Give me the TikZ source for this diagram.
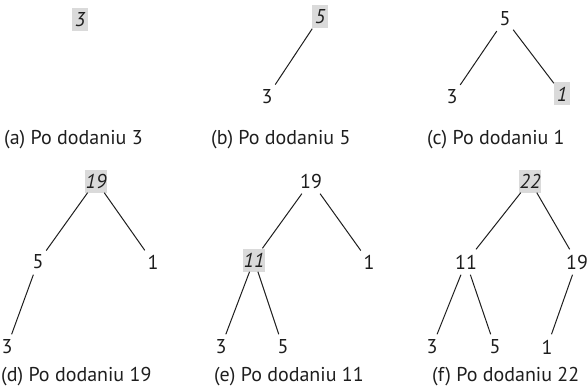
\documentclass[tikz,border=0pt]{standalone}
\usepackage{fontspec}
\setmainfont{PT Sans}
\definecolor{hl}{HTML}{DADADA}
\definecolor{ink}{HTML}{1E1E1E}
\tikzset{
  every node/.style={font=\fontsize{20}{22}\selectfont, text=ink},
  key/.style={rectangle, minimum width=16, minimum height=25, inner sep=1pt},
  hot/.style={key, fill=hl, font=\fontsize{20}{22}\selectfont\itshape, minimum height=23},
  capt/.style={inner sep=0pt, anchor=west},
  edge/.style={draw=ink, line width=1pt}
}
\begin{document}
\begin{tikzpicture}[x=1pt,y=-1pt]
\useasboundingbox (0,0) rectangle (588,390);
% (a)
\node[hot] (a1) at (80,20) {3};
\node[capt] (ac) at (4,140) {(a) Po dodaniu 3};
% (b)
\node[hot] (b1) at (320,17) {5};
\node[key] (b2) at (267,97) {3};
\draw[edge] (b1) -- (b2);
\node[capt] (bc) at (211,140) {(b) Po dodaniu 5};
% (c)
\node[key] (c1) at (505,19) {5};
\node[key] (c2) at (452,97) {3};
\node[hot] (c3) at (562,94) {1};
\draw[edge] (c1) -- (c2);
\draw[edge] (c1) -- (c3);
\node[capt] (cc) at (427,140) {(c) Po dodaniu 1};
% (d)
\node[hot] (d1) at (96,181) {19};
\node[key] (d2) at (38,262) {5};
\node[key] (d3) at (153,262) {1};
\node[key] (d4) at (7,347) {3};
\draw[edge] (d1) -- (d2);
\draw[edge] (d1) -- (d3);
\draw[edge] (d2) -- (d4);
\node[capt] (dc) at (1,377) {(d) Po dodaniu 19};
% (e)
\node[key] (e1) at (311,181) {19};
\node[hot] (e2) at (254,260) {11};
\node[key] (e3) at (369,262) {1};
\node[key] (e4) at (221,347) {3};
\node[key] (e5) at (283,347) {5};
\draw[edge] (e1) -- (e2);
\draw[edge] (e1) -- (e3);
\draw[edge] (e2) -- (e4);
\draw[edge] (e2) -- (e5);
\node[capt] (ec) at (214,377) {(e) Po dodaniu 11};
% (f)
\node[hot] (f1) at (530,181) {22};
\node[key] (f2) at (466,262) {11};
\node[key] (f3) at (577,262) {19};
\node[key] (f4) at (432,347) {3};
\node[key] (f5) at (495,347) {5};
\node[key] (f6) at (547,347) {1};
\draw[edge] (f1) -- (f2);
\draw[edge] (f1) -- (f3);
\draw[edge] (f2) -- (f4);
\draw[edge] (f2) -- (f5);
\draw[edge] (f3) -- (f6);
\node[capt] (fc) at (432,377) {(f) Po dodaniu 22};
\end{tikzpicture}
\end{document}
